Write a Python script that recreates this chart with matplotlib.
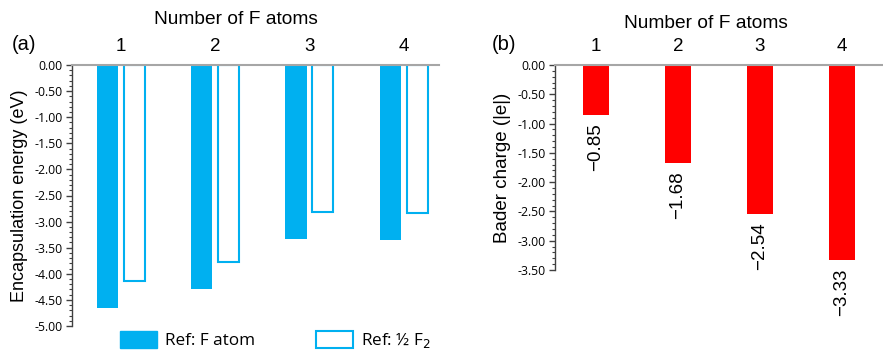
import matplotlib
matplotlib.use("Agg")
import matplotlib.pyplot as plt
from matplotlib.ticker import MultipleLocator, FormatStrFormatter
from matplotlib.patches import Patch
import numpy as np

plt.rcParams['axes.unicode_minus'] = False

# Data
n_atoms = ["1", "2", "3", "4"]
ref_f_atom = [-4.66, -4.29, -3.34, -3.36]     # Encapsulation energy, Ref: F atom (eV)
ref_half_f2 = [-4.13, -3.77, -2.81, -2.84]    # Encapsulation energy, Ref: 1/2 F2 (eV)
bader_charge = [-0.85, -1.68, -2.54, -3.33]   # Bader charge (|e|)
bader_labels = ["\u22120.85", "\u22121.68", "\u22122.54", "\u22123.33"]

blue = "#00B0F0"
red = "#FF0000"
W, H = 883, 350

fig = plt.figure(figsize=(W / 100, H / 100), dpi=100)

tick_font = "Open Sans"
text_font = "Liberation Sans"


def style_axis(ax, ymin):
    ax.set_ylim(ymin, 0)
    ax.yaxis.set_major_locator(MultipleLocator(0.5))
    ax.yaxis.set_minor_locator(MultipleLocator(0.1))
    ax.yaxis.set_major_formatter(FormatStrFormatter("%.2f"))
    for s in ["bottom", "right"]:
        ax.spines[s].set_visible(False)
    ax.spines["top"].set_color("#A6A6A6")
    ax.spines["top"].set_linewidth(1.5)
    ax.spines["left"].set_color("#404040")
    ax.spines["left"].set_linewidth(1.0)
    ax.tick_params(axis="y", which="major", length=4, width=1, color="#404040",
                   labelsize=8.8, pad=3)
    ax.tick_params(axis="y", which="minor", length=2.5, width=0.8, color="#404040")
    for lbl in ax.get_yticklabels():
        lbl.set_fontfamily(tick_font)
    ax.xaxis.tick_top()
    ax.tick_params(axis="x", length=0, labelsize=13.5, pad=7)
    for lbl in ax.get_xticklabels():
        lbl.set_fontfamily(text_font)


# (a) Encapsulation energy
ax1 = fig.add_axes([72 / W, 1 - 326 / H, (439 - 72) / W, (326 - 65) / H])
x = np.arange(len(n_atoms))
bw = 0.225
ax1.bar(x - 0.14, ref_f_atom, bw, color=blue, label="Ref: F atom")
ax1.bar(x + 0.145, ref_half_f2, bw, facecolor="white", edgecolor=blue,
        linewidth=1.5, label="Ref: \u00bd F$_2$")
ax1.set_xlim(-0.514, 3.376)
ax1.set_xticks(x)
ax1.set_xticklabels(n_atoms)
style_axis(ax1, -5.0)
ax1.set_ylabel("Encapsulation energy (eV)", fontsize=13, family=text_font, labelpad=4)

# legend at the bottom, partly cut by the figure edge
handles = [Patch(facecolor=blue, edgecolor=blue),
           Patch(facecolor="white", edgecolor=blue, linewidth=1.5)]
fig.legend(handles, ["Ref: F atom", "Ref: \u00bd F$_2$"], ncol=2, frameon=False,
           loc="upper left", bbox_to_anchor=(113 / W, 1 - 324 / H),
           prop={"family": tick_font, "size": 12.3},
           handlelength=2.2, handleheight=1.15, handletextpad=0.45,
           columnspacing=3.55, borderaxespad=0)

# (b) Bader charge
ax2 = fig.add_axes([555 / W, 1 - 270 / H, (883 - 555) / W, (270 - 65) / H])
ax2.bar(x, bader_charge, 0.317, color=red)
ax2.set_xlim(-0.5, 3.5)
ax2.set_xticks(x)
ax2.set_xticklabels(n_atoms)
style_axis(ax2, -3.5)
ax2.set_ylabel("Bader charge (|e|)", fontsize=13.5, family=text_font, labelpad=4)
for xi, v, lab in zip(x, bader_charge, bader_labels):
    ax2.annotate(lab, (xi, v), xytext=(0, -6), textcoords="offset points",
                 rotation=90, ha="center", va="top", fontsize=13.5,
                 family=text_font, annotation_clip=False)

# titles and panel letters
fig.text(235.5 / W, 1 - 20 / H, "Number of F atoms", ha="center", va="center",
         fontsize=13.8, family=text_font)
fig.text(706 / W, 1 - 23 / H, "Number of F atoms", ha="center", va="center",
         fontsize=13.8, family=text_font)
fig.text(12 / W, 1 - 45 / H, "(a)", ha="left", va="center", fontsize=14.5, family=text_font)
fig.text(492 / W, 1 - 45 / H, "(b)", ha="left", va="center", fontsize=14.5, family=text_font)

fig.savefig("out.png", dpi=100)
